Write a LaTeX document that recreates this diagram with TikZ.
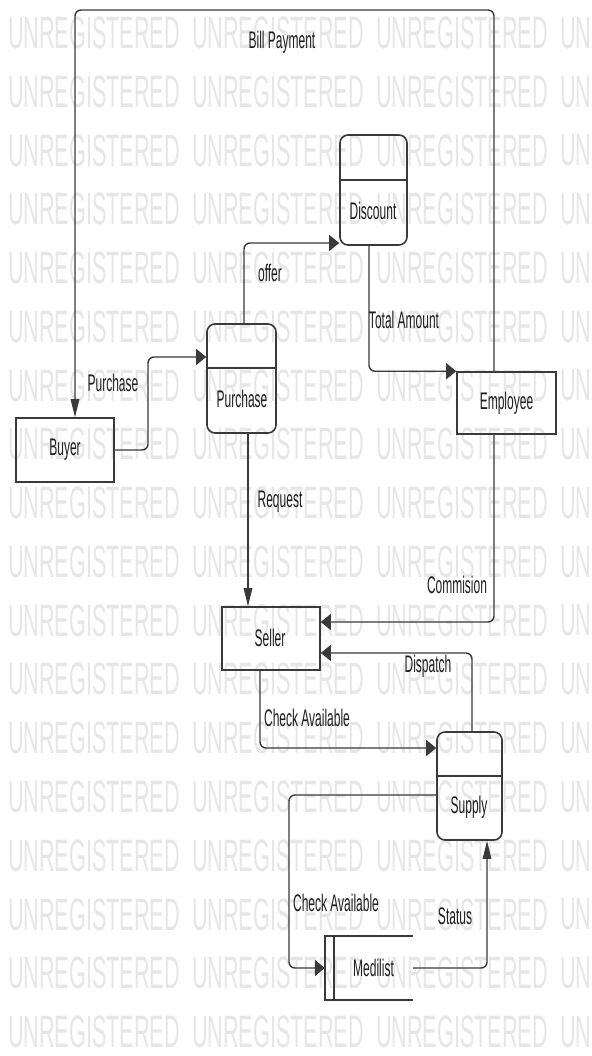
\documentclass[tikz,border=0pt]{standalone}
\usepackage{fontspec}
\setmainfont{Liberation Sans}
\usetikzlibrary{arrows.meta}
\newcommand{\stretchtxt}[2][2]{\scalebox{1}[#1]{#2}}
\definecolor{lin}{HTML}{3A3A3A}
\definecolor{wm}{HTML}{E6E6E6}
\definecolor{txt}{HTML}{1E1E1E}
\tikzset{
  conn/.style={draw=lin, line width=1.4pt, rounded corners=6pt},
  harr/.style={-{Triangle[length=10pt,width=16pt]}},
  varr/.style={-{Triangle[length=18pt,width=8.5pt]}},
  box/.style={draw=lin, line width=1.6pt, inner sep=0pt},
  proc/.style={box, rounded corners=8pt},
  ghost/.style={inner sep=0pt},
  lbl/.style={font=\fontsize{12}{14}\selectfont, text=txt, inner sep=0pt},
  wmark/.style={font=\fontsize{21.6}{24}\selectfont, text=wm, inner sep=0pt, anchor=west},
}
\begin{document}
\begin{tikzpicture}[x=1pt,y=-1pt]
\useasboundingbox (0,0) rectangle (591,1056);
\fill[white] (0,0) rectangle (591,1056);
% watermark
\foreach \r in {0,...,17} {
  \foreach \c in {0,1,2} {
    \node[wmark] (wm-\r-\c) at ({8+184*\c},{33+58.76*\r}) {\stretchtxt[2.1]{UNREGISTERED}};
  }
  \node[wmark] (wm-\r-3) at (560,{33+58.76*\r}) {\stretchtxt[2.1]{UN}};
}
% entities
\node[box, minimum width=98pt, minimum height=64pt] (buyer) at (65,450) {};
\node[lbl] (buyerT) at (65,450) {\stretchtxt{Buyer}};
\node[box, minimum width=99pt, minimum height=62pt] (employee) at (506.5,403) {};
\node[lbl] (employeeT) at (506.5,403) {\stretchtxt{Employee}};
\node[box, minimum width=98pt, minimum height=63pt] (seller) at (271,638.5) {};
\node[lbl] (sellerT) at (270,638) {\stretchtxt{Seller}};
% processes
\node[proc, minimum width=69pt, minimum height=109pt] (purchase) at (241.5,378.5) {};
\draw[box] ([yshift=-45pt]purchase.north west) -- ([yshift=-45pt]purchase.north east);
\node[lbl] (purchaseT) at (242,399) {\stretchtxt{Purchase}};
\node[proc, minimum width=67pt, minimum height=110pt] (discount) at (373.5,190) {};
\draw[box] ([yshift=-46pt]discount.north west) -- ([yshift=-46pt]discount.north east);
\node[lbl] (discountT) at (373,211) {\stretchtxt{Discount}};
\node[proc, minimum width=65pt, minimum height=108pt] (supply) at (469.5,786) {};
\draw[box] ([yshift=-45pt]supply.north west) -- ([yshift=-45pt]supply.north east);
\node[lbl] (supplyT) at (469,807) {\stretchtxt{Supply}};
% data store
\node[ghost, minimum width=88pt, minimum height=64pt] (medilist) at (369,968) {};
\draw[box] (medilist.north east) -- (medilist.north west) -- (medilist.south west) -- (medilist.south east);
\draw[box] ([xshift=9pt]medilist.north west) -- ([xshift=9pt]medilist.south west);
\node[lbl] (medilistT) at (373.5,968) {\stretchtxt{Medilist}};
% corner coordinates
\coordinate (billtl) at (75,10);
\coordinate (bpc) at (148,357);
\coordinate (smc) at (289,968);
% connectors
\draw[conn, varr] ([xshift=-12.5pt]employee.north) |- (billtl) -- ([xshift=10pt]buyer.north);
\draw[conn, harr] (buyer.east) -| (bpc) -- (bpc -| purchase.west);
\draw[conn, harr] ([xshift=2.5pt]purchase.north) |- ([yshift=-53pt]discount.west);
\draw[conn, harr] ([xshift=-4.5pt]discount.south) |- (employee.north west);
\draw[conn, varr] ([xshift=6.5pt]purchase.south) -- ([xshift=6.5pt]purchase.south |- seller.north);
\draw[conn, harr] ([xshift=-12.5pt]employee.south) |- ([yshift=16.5pt]seller.east);
\draw[conn, harr] ([xshift=2.5pt]supply.north) |- ([yshift=-14.5pt]seller.east);
\draw[conn, harr] ([xshift=-11pt]seller.south) |- ([yshift=38pt]supply.west);
\draw[conn, harr] ([yshift=-9pt]supply.west) -| (smc) -- (medilist.west);
\draw[conn, varr] (medilist.east) -| ([xshift=17.5pt]supply.south);
% labels
\node[lbl] (lblBill) at (282,42) {\stretchtxt{Bill Payment}};
\node[lbl] (lblOffer) at (270,273) {\stretchtxt{offer}};
\node[lbl] (lblTotal) at (404,320) {\stretchtxt{Total Amount}};
\node[lbl] (lblPurchase) at (113,383) {\stretchtxt{Purchase}};
\node[lbl] (lblRequest) at (280,502) {\stretchtxt{Request}};
\node[lbl] (lblCommision) at (457,585) {\stretchtxt{Commision}};
\node[lbl] (lblDispatch) at (428,666) {\stretchtxt{Dispatch}};
\node[lbl] (lblCheckA) at (307,718) {\stretchtxt{Check Available}};
\node[lbl] (lblCheckB) at (336,903) {\stretchtxt{Check Available}};
\node[lbl] (lblStatus) at (455,916) {\stretchtxt{Status}};
\end{tikzpicture}
\end{document}
